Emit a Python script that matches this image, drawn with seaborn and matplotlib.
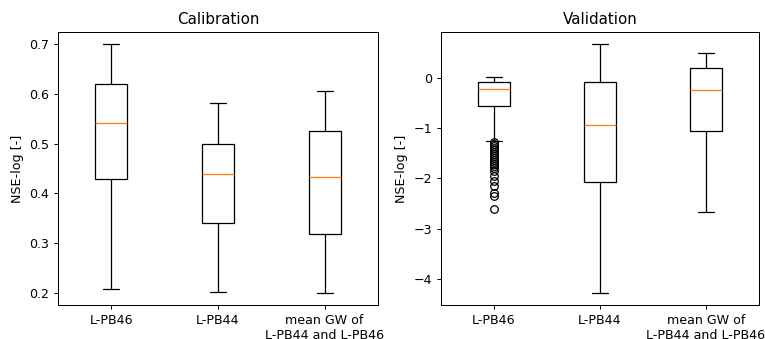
import matplotlib
matplotlib.use("Agg")
import matplotlib.pyplot as plt
import seaborn as sns

# box statistics
labels = ["L-PB46", "L-PB44", "mean GW of\nL-PB44 and L-PB46"]

cal_whislo = [0.207, 0.202, 0.200]
cal_q1 = [0.428, 0.340, 0.318]
cal_med = [0.541, 0.439, 0.433]
cal_q3 = [0.620, 0.499, 0.525]
cal_whishi = [0.700, 0.582, 0.607]

val_whislo = [-1.256, -4.28, -2.68]
val_q1 = [-0.552, -2.08, -1.057]
val_med = [-0.213, -0.937, -0.24]
val_q3 = [-0.08, -0.08, 0.211]
val_whishi = [0.033, 0.678, 0.498]

# outliers of L-PB46 in the validation period
val_fliers_pb46 = [-1.28, -1.32, -1.36, -1.40, -1.44, -1.48, -1.52, -1.56,
                   -1.60, -1.64, -1.68, -1.72, -1.76, -1.80, -1.85, -1.96,
                   -2.06, -2.15, -2.30, -2.36, -2.62]
val_fliers = [val_fliers_pb46, [], []]


def make_stats(lo, q1, med, q3, hi, fliers=None):
    stats = []
    for i in range(len(lo)):
        stats.append({
            "whislo": lo[i], "q1": q1[i], "med": med[i],
            "q3": q3[i], "whishi": hi[i],
            "fliers": fliers[i] if fliers else [],
            "label": labels[i],
        })
    return stats


sns.set_style("ticks", rc={
    "axes.edgecolor": "black",
    "text.color": "black",
    "axes.labelcolor": "black",
    "xtick.color": "black",
    "ytick.color": "black",
})
plt.rcParams["font.family"] = ["DejaVu Sans"]
plt.rcParams["font.size"] = 10

# the original seems to be rendered at ~91 dpi
DPI = 91
fig = plt.figure(figsize=(765 / DPI, 339 / DPI), dpi=DPI)
ax1 = fig.add_axes([58 / 765, 1 - 305 / 339, 320 / 765, 273 / 339])
ax2 = fig.add_axes([441 / 765, 1 - 305 / 339, 318 / 765, 273 / 339])

median_col = sns.color_palette("tab10")[1]
box_kw = dict(
    medianprops={"color": median_col},
    flierprops={"marker": "o", "markerfacecolor": "none",
                "markeredgecolor": "black", "markersize": 6},
)

ax1.bxp(make_stats(cal_whislo, cal_q1, cal_med, cal_q3, cal_whishi), **box_kw)
ax1.set_title("Calibration")
ax1.set_ylabel("NSE-log [-]")

ax2.bxp(make_stats(val_whislo, val_q1, val_med, val_q3, val_whishi, val_fliers), **box_kw)
ax2.set_title("Validation")
ax2.set_ylabel("NSE-log [-]")

fig.savefig("out.png", dpi=DPI)
